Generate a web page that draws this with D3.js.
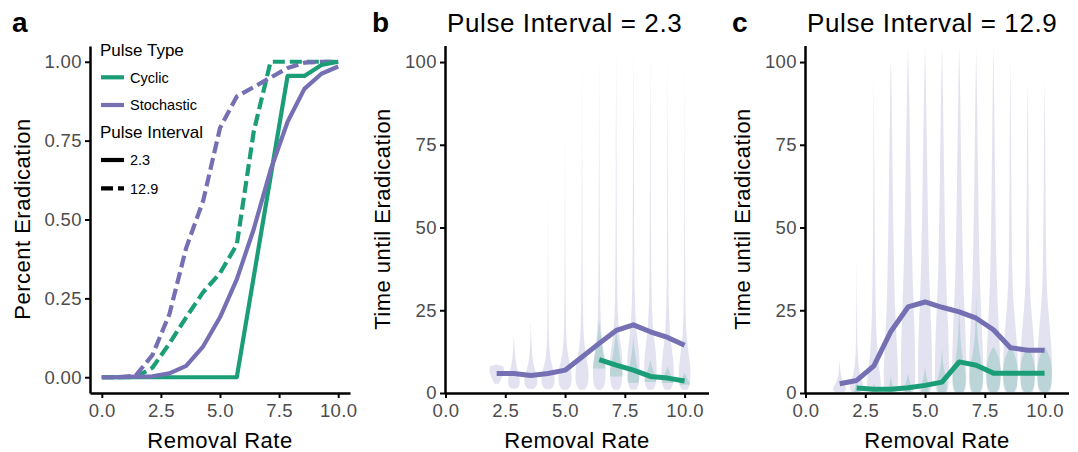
<!DOCTYPE html>
<html>
<head>
<meta charset="utf-8">
<script src="https://cdn.jsdelivr.net/npm/d3@7"></script>
<style>
  body { margin: 0; background: #fff; }
  text { font-family: "Liberation Sans", Arial, Helvetica, sans-serif; }
</style>
</head>
<body>
<div id="graf"></div>
<script>
// Eradicación vs. tasa de remoción (3 paneles)
//

// ---- datos ----
const removalRate = [0, 0.71, 1.43, 2.14, 2.86, 3.57, 4.29, 5.0, 5.71, 6.43, 7.14, 7.86, 8.57, 9.29, 10.0]
const pulseTypes = ['Cyclic', 'Stochastic']
const pulseIntervals = ['2.3', '12.9']

// panel a: proporción erradicada
const eradCyclic23   = [0, 0, 0, 0, 0, 0, 0, 0, 0, 0.32, 0.635, 0.955, 0.955, 0.99, 1.0]
const eradStoch23    = [0, 0, 0.002, 0.003, 0.012, 0.036, 0.098, 0.19, 0.31, 0.47, 0.657, 0.81, 0.914, 0.962, 0.985]
const eradCyclic129  = [0, 0, 0, 0.03, 0.107, 0.19, 0.27, 0.33, 0.42, 0.78, 1, 1, 1, 1, 1]
const eradStoch129   = [0, 0, 0.005, 0.07, 0.2, 0.41, 0.56, 0.79, 0.89, 0.92, 0.95, 0.98, 0.997, 1, 1]

// panel b: tiempo medio (intervalo 2.3)
const ratesStoch23  = removalRate.slice(3)
const timeStoch23   = [5.9, 5.9, 5.3, 5.9, 6.9, 10.9, 15.0, 18.9, 20.6, 18.5, 16.8, 14.4]
const ratesCyclic23 = removalRate.slice(9)
const timeCyclic23  = [10.1, 8.4, 6.9, 5.0, 4.5, 3.6]

// panel c: tiempo medio (intervalo 12.9)
const ratesStoch129  = removalRate.slice(2)
const timeStoch129   = [2.8, 3.8, 8.2, 18.6, 26.0, 27.5, 25.9, 24.5, 22.6, 19.1, 13.7, 12.9, 12.9]
const ratesCyclic129 = removalRate.slice(3)
const timeCyclic129  = [1.5, 1.1, 1.1, 1.6, 2.3, 3.3, 9.4, 8.4, 6.0, 6.0, 6.0, 6.0]

// violines: [tiempo, densidad relativa]
const violinStoch23 = [
  [[2.8,0.3],[4,0.55],[6,0.9],[7.5,1],[8.3,0.8],[8.6,0]],
  [[1.3,0.3],[2,0.75],[4,0.8],[6,0.6],[8,0.35],[11,0.15],[14,0.08],[17.5,0]],
  [[1.2,0.3],[2,0.8],[4,0.9],[6,0.7],[8,0.4],[11,0.18],[15,0.08],[22,0]],
  [[1.1,0.3],[2,0.8],[4,0.9],[6.5,0.75],[9,0.45],[12,0.2],[18,0.08],[30,0.04],[60,0]],
  [[1,0.3],[2,0.8],[4.5,0.9],[7,0.8],[10,0.5],[14,0.22],[20,0.1],[40,0.04],[85,0]],
  [[1,0.3],[2,0.75],[5,0.9],[8,0.8],[11,0.55],[15,0.28],[22,0.12],[40,0.06],[70,0.03],[102,0]],
  [[1,0.3],[2,0.7],[5,0.85],[9,0.8],[13,0.55],[17,0.3],[24,0.14],[40,0.07],[70,0.04],[103,0]],
  [[1,0.3],[2,0.7],[6,0.85],[11,0.8],[15,0.55],[19,0.32],[26,0.16],[40,0.09],[70,0.05],[104,0]],
  [[1,0.3],[2,0.7],[6,0.85],[12,0.78],[16,0.55],[20,0.35],[27,0.18],[40,0.1],[70,0.06],[104,0]],
  [[1,0.3],[2,0.7],[6,0.85],[12,0.75],[16,0.5],[20,0.32],[27,0.16],[40,0.09],[70,0.05],[104,0]],
  [[1,0.3],[2,0.7],[6,0.85],[11,0.7],[15,0.45],[19,0.28],[26,0.14],[40,0.08],[70,0.04],[103,0]],
  [[1,0.3],[2,0.7],[6,0.8],[10,0.65],[14,0.4],[18,0.22],[25,0.11],[40,0.06],[70,0.03],[102,0]]
]
const violinCyclic23 = [
  [[7.4,0.85],[9,0.75],[12,0.5],[16,0.28],[19,0.12],[22,0]],
  [[5,0.8],[6.5,0.85],[9,0.6],[12,0.4],[15,0.2],[19,0]],
  [[3,0.6],[4,0.8],[6,0.7],[9,0.4],[12,0.2],[17,0]],
  [[3.3,0.8],[4.5,0.7],[6,0.45],[8,0.2],[10,0]],
  [[3,0.8],[4.2,0.65],[5.5,0.4],[7,0.15],[8,0]],
  [[2.5,0.7],[3.3,0.6],[4.5,0.3],[6.3,0]]
]
const violinStoch129 = [
  [[0.3,0.6],[1,0.9],[2,0.8],[3.5,0.4],[5,0.2],[7,0.08],[10,0]],
  [[0.3,0.6],[1,0.9],[3,0.85],[5,0.5],[8,0.25],[12,0.12],[20,0.05],[42,0]],
  [[0.3,0.6],[1,0.9],[4,0.9],[8,0.65],[14,0.4],[25,0.22],[45,0.11],[70,0.06],[96,0]],
  [[0.3,0.6],[1,0.9],[6,0.95],[14,0.8],[25,0.55],[36,0.42],[66,0.22],[90,0.1],[101.5,0]],
  [[0.3,0.6],[1,0.9],[8,0.95],[20,0.85],[36,0.55],[66,0.32],[90,0.15],[104.5,0]],
  [[0.3,0.6],[1,0.9],[8,0.95],[20,0.82],[36,0.5],[66,0.3],[90,0.14],[105,0]],
  [[0.3,0.6],[1,0.9],[8,0.95],[20,0.8],[36,0.47],[66,0.27],[90,0.13],[105,0]],
  [[0.3,0.6],[1,0.9],[8,0.95],[20,0.8],[36,0.47],[66,0.27],[90,0.13],[105,0]],
  [[0.3,0.6],[1,0.9],[8,0.95],[20,0.75],[36,0.42],[66,0.23],[90,0.11],[104,0]],
  [[0.3,0.6],[1,0.9],[8,0.95],[20,0.7],[36,0.38],[66,0.2],[90,0.1],[105,0]],
  [[0.3,0.6],[1,0.9],[8,1],[16,0.85],[26,0.42],[36,0.2],[66,0.1],[90,0.05],[102,0]],
  [[0.3,0.6],[1,0.9],[8,1],[16,0.85],[26,0.42],[36,0.2],[66,0.1],[85,0.05],[93.5,0]],
  [[0.3,0.6],[1,0.9],[8,1],[16,0.85],[26,0.42],[36,0.2],[66,0.1],[85,0.05],[94.5,0]]
]
const violinCyclic129 = [
  [[0.3,0.35],[1,0.3],[2,0.15],[3.5,0]],
  [[0.3,0.3],[1,0.25],[2,0.1],[3,0]],
  [[0.3,0.3],[1.5,0.3],[3,0.15],[5,0]],
  [[0.3,0.4],[1.5,0.45],[3,0.3],[4.5,0.1],[6,0]],
  [[0.3,0.45],[1.5,0.5],[3.5,0.35],[5.5,0.12],[8,0]],
  [[0.3,0.5],[2,0.65],[4,0.6],[6.5,0.3],[10,0.08],[14,0]],
  [[0.3,0.5],[2,0.8],[5,0.9],[9,0.55],[14,0.22],[20,0.08],[28,0]],
  [[0.3,0.5],[2,0.8],[5.5,0.95],[10,0.6],[15,0.22],[22,0.08],[30,0]],
  [[0.3,0.4],[1.5,0.8],[4,0.95],[7,1],[10,0.8],[12.5,0.4],[14,0]],
  [[0.3,0.4],[1.5,0.8],[4,0.95],[7,1],[10,0.8],[12.5,0.4],[14,0]],
  [[0.3,0.4],[1.5,0.8],[4,0.95],[7,1],[10,0.8],[12.5,0.4],[14,0]],
  [[0.3,0.4],[1.5,0.8],[4,0.95],[7,1],[10,0.8],[12.5,0.4],[14,0]]
]

// ---- lienzo ----
const svg = d3.select('#graf').append('svg')
  .attr('width', 1078)
  .attr('height', 452)
  .style('display', 'block')

const color = d3.scaleOrdinal().domain(pulseTypes).range(['#1b9e77', '#7570b3'])
const dash  = d3.scaleOrdinal().domain(pulseIntervals).range(['none', '12,5'])
const vWidth = d3.scaleLinear().domain([0, 1]).range([0, 0.32])

function styleAxis(g) {
  g.attr('font-family', null).attr('font-size', null)
  g.select('.domain').attr('stroke', '#000').attr('stroke-width', 2.5)
  g.selectAll('.tick line').attr('stroke', '#000').attr('stroke-width', 2)
  g.selectAll('.tick text')
    .attr('fill', '#4d4d4d')
    .style('font-size', '18.5px')
    .style('letter-spacing', '0.4px')
}

function axisTitles(xTitle, yTitle, xMid, yMid, yBase) {
  svg.append('text')
    .attr('x', xMid).attr('y', 448)
    .attr('text-anchor', 'middle')
    .style('font-size', '22px').style('letter-spacing', '0.5px')
    .text(xTitle)
  svg.append('text')
    .attr('transform', `translate(${yBase}, ${yMid}) rotate(-90)`)
    .attr('text-anchor', 'middle')
    .style('font-size', '22px').style('letter-spacing', '0.5px')
    .text(yTitle)
}

function tag(letter, x) {
  svg.append('text').attr('x', x).attr('y', 32)
    .style('font-size', '28px').style('font-weight', 'bold')
    .text(letter)
}

// ---- panel a ----
const xa = d3.scaleLinear().domain([-0.5, 10.5]).range([90, 350])
const ya = d3.scaleLinear().domain([-0.05, 1.05]).range([393, 46])

svg.append('g').attr('transform', 'translate(0, 393)')
  .call(d3.axisBottom(xa).tickValues([0, 2.5, 5, 7.5, 10]).tickFormat(d3.format('.1f'))
          .tickSize(5).tickSizeOuter(0).tickPadding(6))
  .call(styleAxis)
svg.append('g').attr('transform', 'translate(90, 0)')
  .call(d3.axisLeft(ya).tickValues([0, 0.25, 0.5, 0.75, 1]).tickFormat(d3.format('.2f'))
          .tickSize(5).tickSizeOuter(0).tickPadding(3))
  .call(styleAxis)

const lineA = d3.line()
  .x(d => xa(d.rate))
  .y(d => ya(d.value))

const seriesA = [
  { type: 'Cyclic', interval: '12.9', values: eradCyclic129 },
  { type: 'Stochastic', interval: '12.9', values: eradStoch129 },
  { type: 'Cyclic', interval: '2.3', values: eradCyclic23 },
  { type: 'Stochastic', interval: '2.3', values: eradStoch23 }
]
seriesA.forEach(s => {
  svg.append('path')
    .datum(s.values.map((v, i) => ({ rate: removalRate[i], value: v })))
    .attr('fill', 'none')
    .attr('stroke', color(s.type))
    .attr('stroke-width', 4.2)
    .attr('stroke-linejoin', 'round')
    .attr('stroke-dasharray', dash(s.interval))
    .attr('d', lineA)
})

// leyenda
const leg = svg.append('g').attr('transform', 'translate(100, 0)')
leg.append('text').attr('x', 0).attr('y', 56).style('font-size', '17px').text('Pulse Type')
pulseTypes.forEach((t, i) => {
  const yy = 77.3 + i * 27.7
  leg.append('line').attr('x1', 1).attr('x2', 24).attr('y1', yy).attr('y2', yy)
    .attr('stroke', color(t)).attr('stroke-width', 4.2)
  leg.append('text').attr('x', 30).attr('y', yy + 5.3).style('font-size', '14.5px').text(t)
})
leg.append('text').attr('x', 0).attr('y', 138.3).style('font-size', '17px').text('Pulse Interval')
pulseIntervals.forEach((p, i) => {
  const yy = 160 + i * 28.3
  leg.append('line').attr('x1', 1).attr('x2', 24).attr('y1', yy).attr('y2', yy)
    .attr('stroke', '#000').attr('stroke-width', 4.2)
    .attr('stroke-dasharray', dash(p))
  leg.append('text').attr('x', 30).attr('y', yy + 5.3).style('font-size', '14.5px').text(p)
})

tag('a', 12)
axisTitles('Removal Rate', 'Percent Eradication', 220, 219, 30)

// ---- paneles b y c ----
function timePanel(opt) {
  const x = d3.scaleLinear().domain([0, 11]).range([opt.left + 0.5, opt.left + 263.5])
  const y = d3.scaleLinear().domain([0, 105]).range([393, 45.5])

  const area = (rate) => d3.area()
    .y(d => y(d[0]))
    .x0(d => x(rate - vWidth(d[1])))
    .x1(d => x(rate + vWidth(d[1])))
    .curve(d3.curveBasis)

  const violins = [
    { type: 'Stochastic', rates: opt.stochRates, shapes: opt.stochViolins },
    { type: 'Cyclic', rates: opt.cycRates, shapes: opt.cycViolins }
  ]
  violins.forEach(v => {
    svg.append('g').selectAll('path')
      .data(v.shapes)
      .join('path')
      .attr('fill', color(v.type))
      .attr('fill-opacity', 0.2)
      .attr('d', (shape, i) => area(v.rates[i])(shape))
  })

  const line = d3.line().x(d => x(d.rate)).y(d => y(d.value))
  const lines = [
    { type: 'Stochastic', rates: opt.stochRates, values: opt.stochTime },
    { type: 'Cyclic', rates: opt.cycRates, values: opt.cycTime }
  ]
  lines.forEach(l => {
    svg.append('path')
      .datum(l.values.map((v, i) => ({ rate: l.rates[i], value: v })))
      .attr('fill', 'none')
      .attr('stroke', color(l.type))
      .attr('stroke-width', 5)
      .attr('stroke-linejoin', 'round')
      .attr('d', line)
  })

  svg.append('g').attr('transform', 'translate(0, 393)')
    .call(d3.axisBottom(x).tickValues([0, 2.5, 5, 7.5, 10]).tickFormat(d3.format('.1f'))
            .tickSize(5).tickSizeOuter(0).tickPadding(6))
    .call(styleAxis)
  svg.append('g').attr('transform', `translate(${opt.left}, 0)`)
    .call(d3.axisLeft(y).tickValues([0, 25, 50, 75, 100])
            .tickSize(5).tickSizeOuter(0).tickPadding(3))
    .call(styleAxis)

  svg.append('text')
    .attr('x', opt.left + 2).attr('y', 32)
    .style('font-size', '26px').style('letter-spacing', '0.6px')
    .text(opt.title)
  tag(opt.tag, opt.left - 73)
  axisTitles('Removal Rate', 'Time until Eradication', opt.left + 132, 219, opt.left - 55)
}

timePanel({
  left: 445, tag: 'b', title: 'Pulse Interval = 2.3',
  stochRates: ratesStoch23, stochTime: timeStoch23, stochViolins: violinStoch23,
  cycRates: ratesCyclic23, cycTime: timeCyclic23, cycViolins: violinCyclic23
})
timePanel({
  left: 805, tag: 'c', title: 'Pulse Interval = 12.9',
  stochRates: ratesStoch129, stochTime: timeStoch129, stochViolins: violinStoch129,
  cycRates: ratesCyclic129, cycTime: timeCyclic129, cycViolins: violinCyclic129
})
</script>
</body>
</html>
